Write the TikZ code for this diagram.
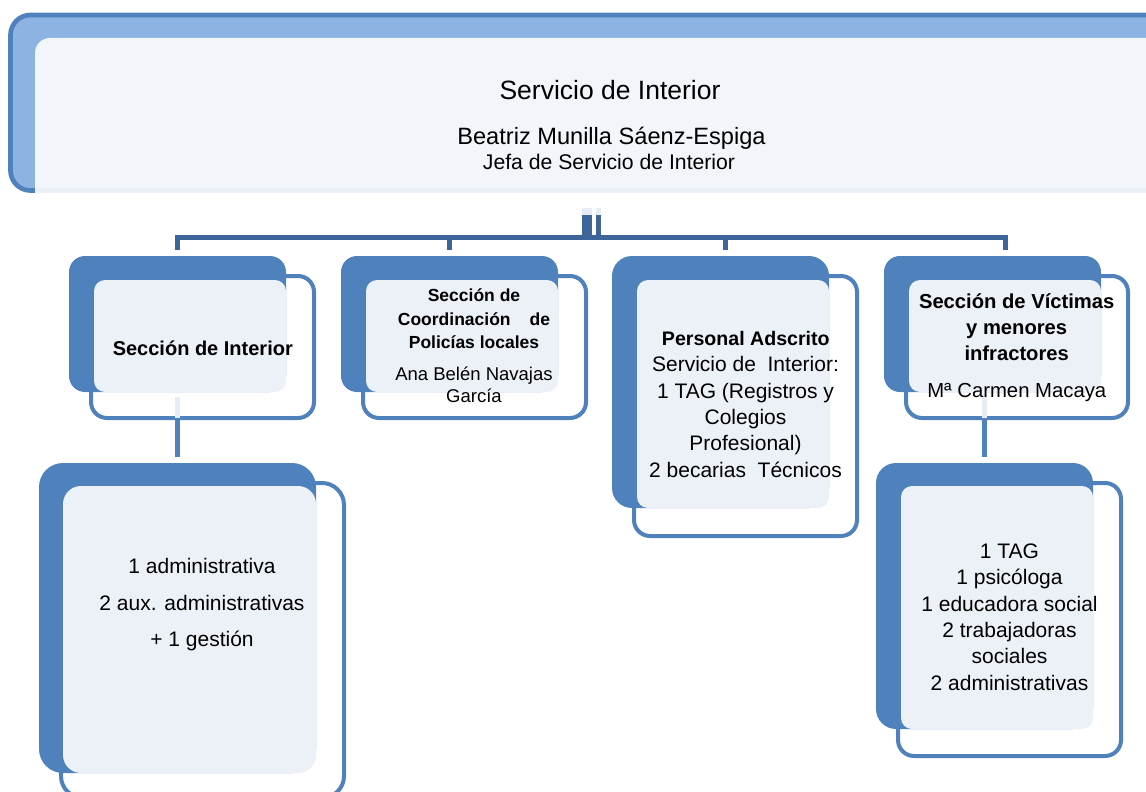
\documentclass[tikz,border=0pt]{standalone}
\usepackage{fontspec}
\setmainfont{Liberation Sans}
\definecolor{blueM}{RGB}{79,129,189}
\definecolor{darkC}{RGB}{62,101,153}
\definecolor{bannerLight}{RGB}{141,179,226}
\definecolor{bannerPale}{RGB}{242,245,250}
\definecolor{bandC}{RGB}{235,240,247}
\definecolor{paleC}{RGB}{236,240,247}
\definecolor{stubC}{RGB}{230,235,244}
\begin{document}
\begin{tikzpicture}[x=1pt,y=-1pt,
  back/.style={fill=blueM, draw=none, rounded corners=16pt, inner sep=0pt, outer sep=0pt},
  front/.style={fill=white, draw=blueM, line width=4pt, rounded corners=16pt, inner sep=0pt, outer sep=0pt},
  pale/.style={fill=paleC, draw=none, rounded corners=11pt, inner sep=0pt, outer sep=0pt},
  txt/.style={inner sep=0pt, outer sep=0pt, anchor=base, text=black},
  topconn/.style={draw=darkC, line width=5pt},
  subconn/.style={draw=blueM, line width=5pt},
  stub/.style={draw=stubC, line width=5pt},
  hreg/.style={font=\fontsize{#1}{#1}\selectfont},
  hbold/.style={font=\bfseries\fontsize{#1}{#1}\selectfont}
]
\useasboundingbox (0,0) rectangle (1146,792);
\clip (0,0) rectangle (1146,792);

% ---------- banner ----------
\node[draw=blueM, line width=4.7pt, fill=bannerLight, rounded corners=20pt,
      minimum width=1160pt, minimum height=175.5pt, inner sep=0pt] (bannerback) at (590.5,102.75) {};
\node[fill=bannerPale, rounded corners=15pt, minimum width=1140pt, minimum height=170pt,
      inner sep=0pt] (bannerfront) at (605,123) {};
\fill[white] (35,193.2) rectangle (1146,214);

% ---------- top connectors ----------
\coordinate (hub) at (591.5,237.5);
\coordinate (d1) at (177.5,250);
\coordinate (d2) at (449,250);
\coordinate (d3) at (725,250);
\coordinate (d4) at (1005.5,250);
\coordinate (vL) at (587,215);
\coordinate (vR) at (598.5,215);
\draw[line width=10pt, stubC] (vL |- bannerfront.south) -- (vL);
\draw[line width=5pt, stubC] (vR |- bannerfront.south) -- (vR);
\draw[line width=10pt, darkC] (vL) -- (vL |- hub);
\draw[line width=5pt, darkC] (vR) -- (vR |- hub);
\fill[bandC] (35,188) rectangle (1146,193.2);
\draw[topconn] (d1) |- (hub) -| (d4);
\draw[topconn] (hub) -| (d2);
\draw[topconn] (hub) -| (d3);

% ---------- box shapes ----------
\node[front, minimum width=223pt, minimum height=142pt] (f1) at (202.5,347) {};
\node[back, minimum width=217pt, minimum height=136pt] (b1) at (177.5,324) {};
\node[pale, minimum width=192pt, minimum height=112pt] (p1) at (190,336) {};

\node[front, minimum width=223pt, minimum height=142pt] (f2) at (474.5,347) {};
\node[back, minimum width=217pt, minimum height=136pt] (b2) at (449.5,324) {};
\node[pale, minimum width=192pt, minimum height=112pt] (p2) at (462,336) {};

\node[front, minimum width=223pt, minimum height=260pt] (f3) at (745.5,406) {};
\node[back, minimum width=217pt, minimum height=252pt, rounded corners=20pt] (b3) at (720.5,382) {};
\node[pale, minimum width=192pt, minimum height=228pt] (p3) at (733,394) {};

\node[front, minimum width=222pt, minimum height=142pt] (f4) at (1017,347) {};
\node[back, minimum width=217pt, minimum height=136pt] (b4) at (992.5,324) {};
\node[pale, minimum width=192pt, minimum height=112pt] (p4) at (1005,336) {};

\node[front, minimum width=283pt, minimum height=315pt, rounded corners=22pt] (f5) at (202.5,640.5) {};
\node[back, minimum width=277pt, minimum height=310pt, rounded corners=24pt] (b5) at (177.5,618) {};
\node[pale, minimum width=253pt, minimum height=287pt, rounded corners=18pt] (p5) at (189.5,629.5) {};

\node[front, minimum width=223pt, minimum height=273pt] (f6) at (1009.5,619.5) {};
\node[back, minimum width=217pt, minimum height=266pt, rounded corners=20pt] (b6) at (984.5,596) {};
\node[pale, minimum width=192pt, minimum height=243pt] (p6) at (997,607.5) {};

% ---------- lower connectors ----------
\coordinate (e1) at (177.5,0);
\coordinate (e4) at (984.5,0);
\draw[stub] ([yshift=21pt]f1.south -| e1) -- (f1.south -| e1);
\draw[subconn] (f1.south -| e1) -- ([yshift=6pt]b5.north -| e1);
\draw[stub] ([yshift=24pt]f4.south -| e4) -- (f4.south -| e4);
\draw[subconn] (f4.south -| e4) -- ([yshift=6pt]b6.north -| e4);

% ---------- texts ----------
\node[txt, hreg=26.5] (title) at (610,99.3) {Servicio de Interior};
\node[txt, hreg=23.6] (head) at (611.5,144) {Beatriz Munilla Sáenz-Espiga};
\node[txt, hreg=21.2] (role) at (609,169) {Jefa de Servicio de Interior};

\node[txt, hbold=20] (t1) at (202.8,355) {Sección de Interior};

\node[txt, hbold=17.5] (t2a) at (474,301.7) {Sección de};
\node[txt, hbold=17.5] (t2b) at (474,325) {Coordinación\hspace{19pt}de};
\node[txt, hbold=17.5] (t2c) at (474,348.3) {Policías locales};
\node[txt, hreg=18.5] (t2d) at (474,380) {Ana Belén Navajas};
\node[txt, hreg=18.5] (t2e) at (474,402.3) {García};

\node[txt, hbold=19.6] (t3) at (745.8,345) {Personal Adscrito};
\foreach \s [count=\i] in {{Servicio de~ Interior:},{1 TAG (Registros y},{Colegios},{Profesional)},{2 becarias~ Técnicos}}
  \node[txt, hreg=21] (t3-\i) at (745.5,{371.7+(\i-1)*26.4}) {\s};

\foreach \s [count=\i] in {{Sección de Víctimas},{y menores},{infractores}}
  \node[txt, hbold=20.2] (t4-\i) at (1016.7,{308.3+(\i-1)*26.2}) {\s};
\node[txt, hreg=20.3] (t4n) at (1016.8,397.3) {Mª Carmen Macaya};

\foreach \s [count=\i] in {{1 administrativa},{2 aux. administrativas},{+ 1 gestión}}
  \node[txt, hreg=21] (t5-\i) at (202,{573.3+(\i-1)*36.7}) {\s};

\foreach \s [count=\i] in {{1 TAG},{1 psicóloga},{1 educadora social},{2 trabajadoras},{sociales},{2 administrativas}}
  \node[txt, hreg=21] (t6-\i) at (1009.5,{558.3+(\i-1)*26.35}) {\s};
\end{tikzpicture}
\end{document}
